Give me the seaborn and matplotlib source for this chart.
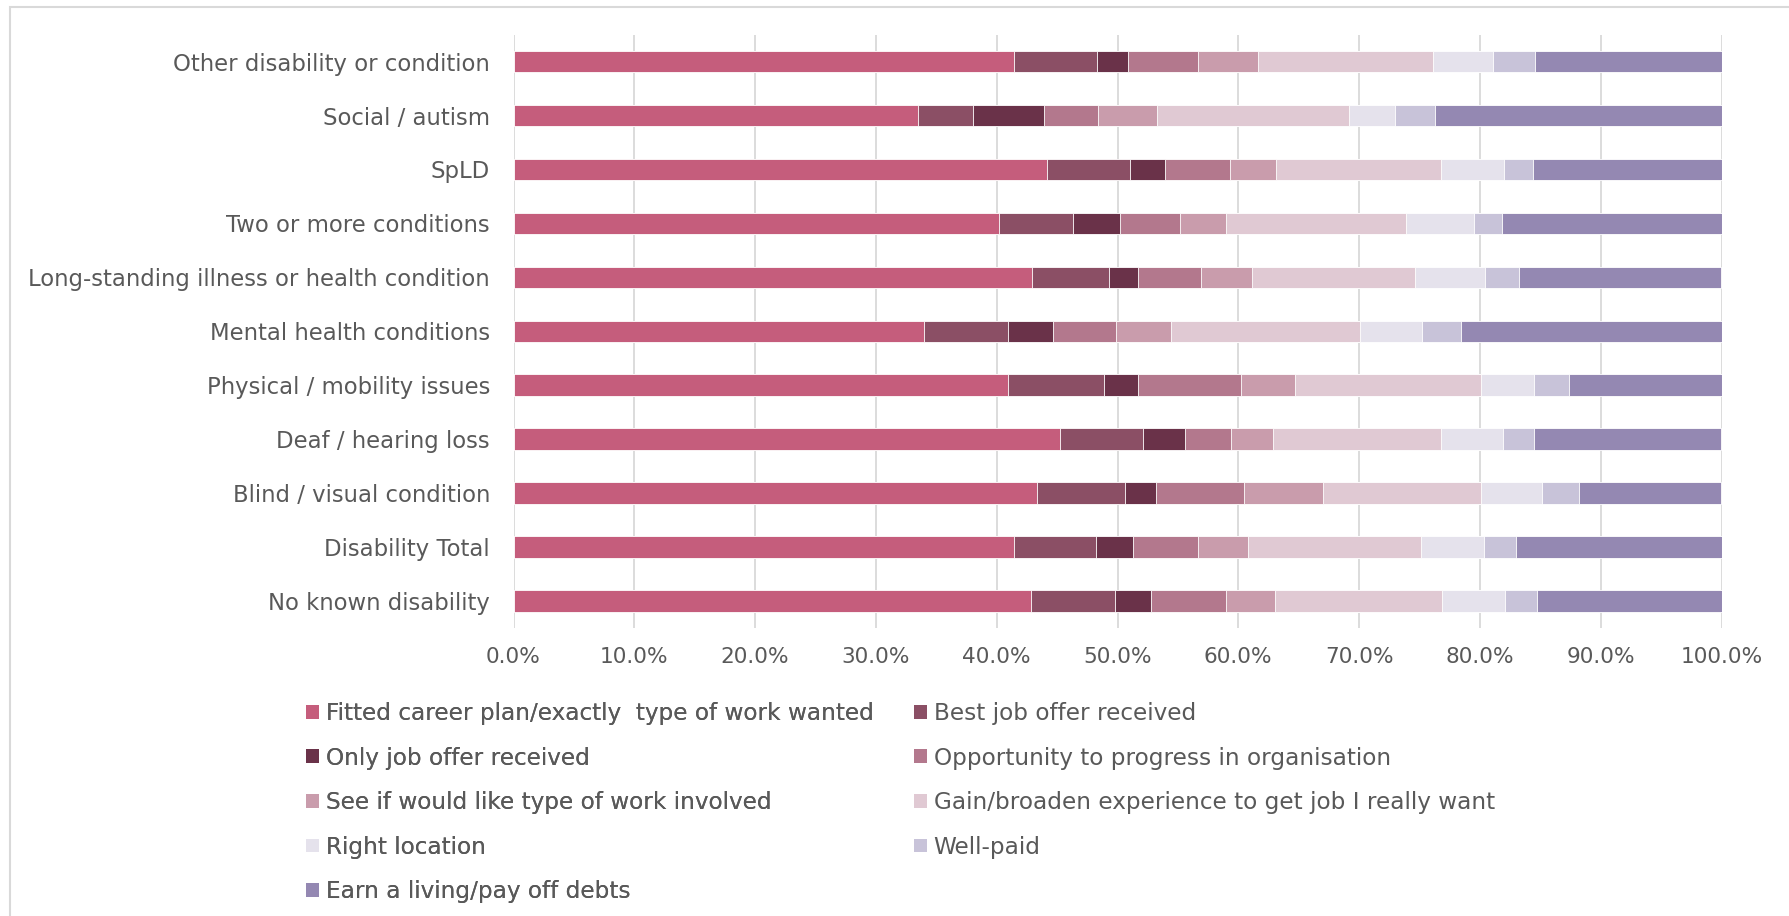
import numpy as np
import pandas as pd
import matplotlib
matplotlib.use("Agg")
import matplotlib.pyplot as plt
import matplotlib.patches as mpatches
import seaborn as sns

categories = [
    "Other disability or condition",
    "Social / autism",
    "SpLD",
    "Two or more conditions",
    "Long-standing illness or health condition",
    "Mental health conditions",
    "Physical / mobility issues",
    "Deaf / hearing loss",
    "Blind / visual condition",
    "Disability Total",
    "No known disability",
]

series_names = [
    "Fitted career plan/exactly  type of work wanted",
    "Best job offer received",
    "Only job offer received",
    "Opportunity to progress in organisation",
    "See if would like type of work involved",
    "Gain/broaden experience to get job I really want",
    "Right location",
    "Well-paid",
    "Earn a living/pay off debts",
]

fitted      = [41.4, 33.5, 44.2, 40.2, 42.9, 34.0, 40.9, 45.2, 43.3, 41.4, 42.8]
best_offer  = [6.9, 4.5, 6.8, 6.1, 6.4, 6.9, 8.0, 6.9, 7.3, 6.8, 7.0]
only_offer  = [2.6, 5.9, 2.9, 3.9, 2.4, 3.8, 2.8, 3.5, 2.6, 3.1, 3.0]
opportunity = [5.8, 4.5, 5.4, 5.0, 5.2, 5.2, 8.5, 3.8, 7.3, 5.4, 6.2]
see_if      = [4.9, 4.9, 3.8, 3.8, 4.2, 4.5, 4.5, 3.5, 6.5, 4.1, 4.0]
gain        = [14.5, 15.9, 13.7, 14.9, 13.5, 15.7, 15.4, 13.9, 13.1, 14.3, 13.9]
location    = [5.0, 3.8, 5.2, 5.6, 5.8, 5.1, 4.4, 5.1, 5.0, 5.2, 5.2]
well_paid   = [3.5, 3.3, 2.4, 2.3, 2.8, 3.2, 2.9, 2.6, 3.1, 2.7, 2.6]
earn        = [15.4, 23.7, 15.6, 18.2, 16.8, 21.6, 12.6, 15.5, 11.8, 17.0, 15.3]

colors = ["#C55D7C", "#8B4F65", "#6A3249", "#B3788D", "#C99CAC",
          "#E0C9D3", "#E5E2EC", "#C8C3D9", "#9488B2"]

tick_values = [0, 10, 20, 30, 40, 50, 60, 70, 80, 90, 100]
tick_labels = [f"{v:.1f}%" for v in tick_values]

series = [fitted, best_offer, only_offer, opportunity, see_if, gain,
          location, well_paid, earn]

df = pd.DataFrame({name: vals for name, vals in zip(series_names, series)})
df["category"] = categories
cum = df[series_names].cumsum(axis=1)

TEXT = "#595959"
sns.set_style("white")
plt.rcParams["font.family"] = ["DejaVu Sans"]

fig = plt.figure(figsize=(17.89, 9.16), dpi=100)
ax = fig.add_axes([513.5 / 1789, 1 - 628 / 916, (1721.5 - 513.5) / 1789, (628 - 34.6) / 916])

# draw cumulative bars from the end back to the start so each overlays the next
for name, color in reversed(list(zip(series_names, colors))):
    plot_df = pd.DataFrame({"category": categories, "value": cum[name].values})
    sns.barplot(data=plot_df, x="value", y="category", orient="h", color=color,
                width=0.4, edgecolor="white", linewidth=0.6, saturation=1,
                ax=ax, zorder=3, order=categories)

ax.set_xlim(0, 100)
ax.set_ylim(len(categories) - 0.5, -0.5)
ax.set_xticks(tick_values)
ax.set_xticklabels(tick_labels)
ax.set_xlabel("")
ax.set_ylabel("")
ax.grid(axis="x", color="#DCDCDC", linewidth=1.4, zorder=0)
ax.grid(axis="y", visible=False)
ax.set_axisbelow(True)
for s in ax.spines.values():
    s.set_visible(False)
ax.tick_params(axis="x", length=0, pad=14, labelsize=15.6, labelcolor=TEXT)
ax.tick_params(axis="y", length=0, pad=17, labelsize=16.4, labelcolor=TEXT)

# legends (two columns, row-major order)
handles = [mpatches.Patch(facecolor=c, edgecolor="none") for c in colors]
col1 = [0, 2, 4, 6, 8]
col2 = [1, 3, 5, 7]
leg_kw = dict(loc="upper left", frameon=False, fontsize=16.7, handlelength=0.55,
              handleheight=0.55, handletextpad=0.3, labelspacing=0.93,
              borderaxespad=0, borderpad=0, labelcolor=TEXT)
leg1 = fig.legend([handles[i] for i in col1], [series_names[i] for i in col1],
                  bbox_to_anchor=(306 / 1789, 1 - 702 / 916), **leg_kw)
fig.add_artist(leg1)
leg2 = fig.legend([handles[i] for i in col2], [series_names[i] for i in col2],
                  bbox_to_anchor=(914 / 1789, 1 - 702 / 916), **leg_kw)

# outer frame
fig.add_artist(mpatches.Rectangle((10 / 1789, -0.05), 1.1, 1 - 6.7 / 916 + 0.05,
                                  transform=fig.transFigure, fill=False,
                                  edgecolor="#D9D9D9", linewidth=1.5))

fig.savefig("out.png", dpi=100, facecolor="white")
